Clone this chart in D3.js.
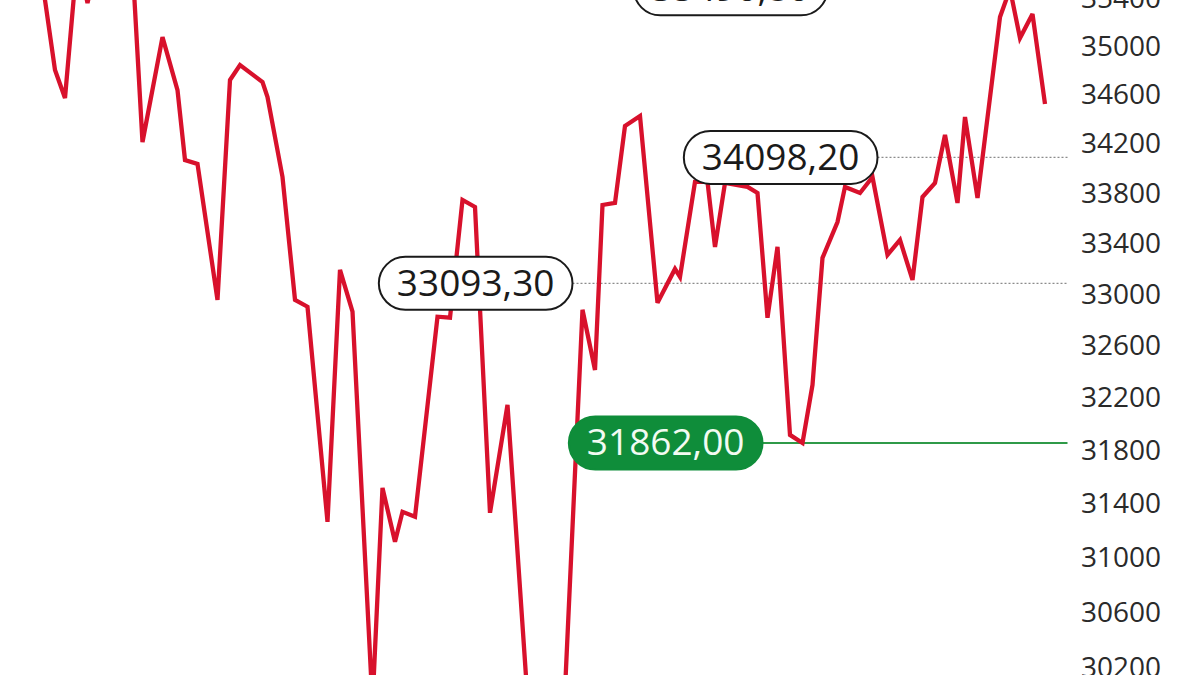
<!DOCTYPE html>
<html>
<head>
<meta charset="utf-8">
<script src="https://cdn.jsdelivr.net/npm/d3@7"></script>
<style>
  html, body { margin: 0; padding: 0; background: #ffffff; }
  svg { display: block; }
</style>
</head>
<body>
<svg id="chart" width="1200" height="675"></svg>
<script>
// ---- data ----
const session = [0, 6, 10, 15, 19, 22, 28, 32, 37, 41, 49, 55, 58, 63, 71, 76, 80, 89, 91, 97,
  102, 107, 115, 120, 125, 133, 137, 142, 145, 150, 159, 164, 169, 174, 180, 187, 196, 202, 209, 217,
  222, 225, 230, 234, 240, 247, 254, 256, 262, 267, 270, 274, 283, 287, 291, 295, 300, 305, 309, 313,
  319, 322, 328, 333, 339, 344, 349, 353, 358, 362, 367, 370, 375, 384, 388, 392, 397, 402];
const closeValue = [35693, 34813, 34583, 35777, 35372, 35650, 36077, 35777, 35693, 34223,
  35087, 34648, 34077, 34045, 32964, 34731, 34855, 34714, 34591, 33940,
  32964, 32910, 31271, 33199, 32871, 29946, 31524, 31123, 31345, 31308,
  32832, 32824, 33755, 33699, 31338, 32151, 29727, 29868, 29656, 32886,
  32419, 33715, 33731, 34353, 34435, 32941, 33207, 33144, 33900, 33900,
  33381, 33892, 33860, 33811, 32824, 33381, 31923, 31862, 32304, 33294,
  33579, 33860, 33811, 33940, 33318, 33436, 33120, 33779, 33892, 34280,
  33731, 34427, 33771, 35254, 35490, 35079, 35280, 34533];
const tickValues = [30200, 30600, 31000, 31400, 31800, 32200, 32600, 33000, 33400, 33800, 34200, 34600, 35000, 35400];
const markerValues = [35490.8, 34098.2, 33093.3, 31862.0];
const markerTexts = ["35490,80", "34098,20", "33093,30", "31862,00"];

// ---- layout ----
const svg = d3.select("#chart");
const x = d3.scaleLinear().domain([0, 411]).range([40, 1067.5]);
const y = d3.scaleLog().domain([30200, 35000]).range([668.5, 47.5]);

const points = session.map((s, i) => ({ s, v: closeValue[i] }));

// axis (right side, labels only)
const axis = d3.axisRight(y).tickValues(tickValues).tickFormat(d3.format("d")).tickSize(0).tickPadding(0);
const gAxis = svg.append("g").attr("transform", "translate(1081,0)").call(axis);
gAxis.select(".domain").remove();
gAxis.selectAll("text")
  .attr("x", 0)
  .attr("dy", null)
  .attr("y", 0)
  .attr("dominant-baseline", "central")
  .attr("transform", "translate(0,-3)")
  .style("font-family", "'Open Sans', 'Noto Sans', sans-serif")
  .style("font-size", "28px")
  .style("fill", "#2a2a2a");

// marker label anchors (right edge of box, in session units), style
const markerRight = [315, 335, 213, 289];
const markerFill = ["#ffffff", "#ffffff", "#ffffff", "#0f8d3a"];
const markerStroke = ["#1a1a1a", "#1a1a1a", "#1a1a1a", "#0f8d3a"];
const markerTextColor = ["#1a1a1a", "#1a1a1a", "#1a1a1a", "#f2fbf2"];
const lineEnd = 411;

// reference lines (drawn under the series)
markerValues.forEach((v, i) => {
  const isGreen = i === 3;
  svg.append("line")
    .attr("x1", x(markerRight[i])).attr("x2", x(lineEnd))
    .attr("y1", y(v)).attr("y2", y(v))
    .attr("stroke", isGreen ? "#2f9a48" : "#8c8c8c")
    .attr("stroke-width", isGreen ? 2 : 1.2)
    .attr("stroke-dasharray", isGreen ? null : "2,2");
});

// series line
const line = d3.line().x(d => x(d.s)).y(d => y(d.v));
svg.append("path")
  .datum(points)
  .attr("d", line)
  .attr("fill", "none")
  .attr("stroke", "#d8112c")
  .attr("stroke-width", 4.3)
  .attr("stroke-linejoin", "miter")
  .attr("stroke-miterlimit", 3);

// marker labels (drawn over the series)
markerValues.forEach((v, i) => {
  const g = svg.append("g");
  const fs = 37;
  const cy = y(v);
  const txt = g.append("text")
    .text(markerTexts[i])
    .style("font-family", "'Open Sans', 'Noto Sans', sans-serif")
    .style("font-size", fs + "px")
    .style("fill", markerTextColor[i]);
  const w = txt.node().getComputedTextLength();
  const pad = 18;
  const boxW = w + pad * 2;
  const boxH = 53;
  const right = x(markerRight[i]);
  const left = right - boxW;
  g.insert("rect", "text")
    .attr("x", left).attr("y", cy - boxH / 2)
    .attr("width", boxW).attr("height", boxH)
    .attr("rx", boxH / 2).attr("ry", boxH / 2)
    .attr("fill", markerFill[i])
    .attr("stroke", markerStroke[i])
    .attr("stroke-width", 2);
  txt.attr("x", left + pad).attr("y", cy + 0.357 * fs - 1);
});
</script>
</body>
</html>
